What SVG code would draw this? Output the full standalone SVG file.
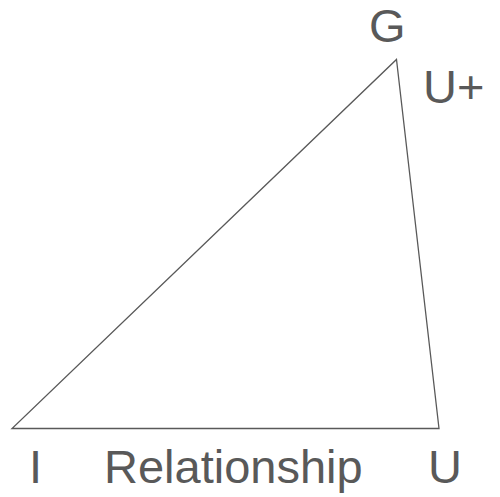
<svg xmlns="http://www.w3.org/2000/svg" width="500" height="497" viewBox="0 0 500 497">
<style>
.lbl{font-family:"Liberation Sans",Arial,sans-serif;font-size:47px;fill:#595959}
.edge{stroke:#595959;stroke-width:1.3;fill:none;stroke-linejoin:miter}
</style>
<rect width="500" height="497" fill="#fff"/>
<g id="connectors">
<polygon class="edge" points="396.5,59.5 439,428.5 12,428.5"/>
</g>
<g id="node-G"><text class="lbl" x="369" y="42">G</text></g>
<g id="node-Uplus"><text class="lbl" x="423" y="103">U+</text></g>
<g id="node-I"><text class="lbl" x="29" y="483">I</text></g>
<g id="node-Relationship"><text class="lbl" x="104" y="483">Relationship</text></g>
<g id="node-U"><text class="lbl" x="428" y="483">U</text></g>
</svg>
